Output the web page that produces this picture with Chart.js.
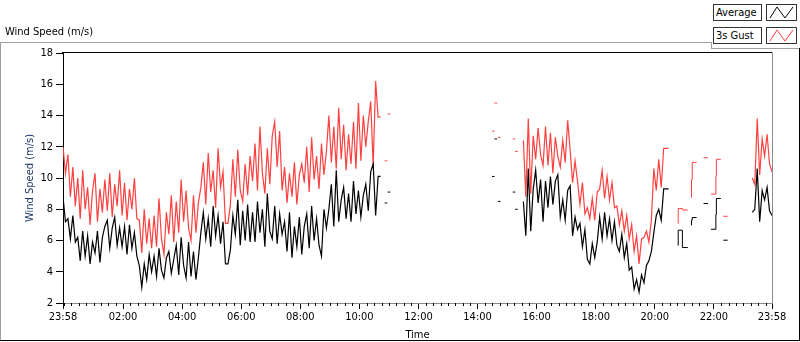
<!DOCTYPE html>
<html>
<head>
<meta charset="utf-8">
<title>Wind Speed</title>
<script src="https://cdn.jsdelivr.net/npm/chart.js@4.4.1/dist/chart.umd.min.js"></script>
<style>
  html, body { margin: 0; padding: 0; background: #fff; }
  #wrap { position: relative; width: 800px; height: 342px; overflow: hidden;
          font-family: "DejaVu Sans Condensed", "DejaVu Sans", sans-serif; font-size: 11px; color: #000; }
  .ln { position: absolute; }
  #chart { position: absolute; left: 0; top: 0; }
  .caption { position: absolute; left: 5px; top: 25px; line-height: 14px; white-space: nowrap; }
  .lg-text { position: absolute; left: 713px; width: 49px; height: 17px; border: 1px solid #333;
             background: #fff; line-height: 16px; padding-left: 2px; box-sizing: border-box; white-space: nowrap; }
  .lg-icon { position: absolute; left: 766px; width: 31px; height: 17px; border: 1px solid #333;
             background: #fff; box-sizing: border-box; }
</style>
</head>
<body>
<div id="wrap">
  <!-- outer LabVIEW style frame -->
  <div class="ln" style="left:0;top:42px;width:712px;height:1px;background:#a0a0a0"></div>
  <div class="ln" style="left:711px;top:42px;width:1px;height:7px;background:#a0a0a0"></div>
  <div class="ln" style="left:711px;top:48px;width:89px;height:1px;background:#a0a0a0"></div>
  <div class="ln" style="left:0;top:42px;width:1px;height:299px;background:#a0a0a0"></div>
  <div class="ln" style="left:0;top:340px;width:800px;height:1px;background:#000"></div>
  <div class="ln" style="left:799px;top:48px;width:1px;height:293px;background:#000"></div>

  <canvas id="chart" width="800" height="342"></canvas>

  <div class="caption">Wind Speed (m/s)</div>

  <div class="lg-text" style="top:4px">Average</div>
  <div class="lg-icon" style="top:4px">
    <svg width="29" height="15"><polyline points="3,13 10,2 18,13 26,2" fill="none" stroke="#000" stroke-width="1"/></svg>
  </div>
  <div class="lg-text" style="top:27px">3s Gust</div>
  <div class="lg-icon" style="top:27px">
    <svg width="29" height="15"><polyline points="3,13 10,2 18,13 26,2" fill="none" stroke="#ff4040" stroke-width="1"/></svg>
  </div>
</div>

<script>
// x values are minutes after 23:58, samples logged every 5 min
const STEP = 5;

const tickMinutes = [0, 122, 242, 362, 482, 602, 722, 842, 962, 1082, 1202, 1322, 1440];
const timeLabels = ['23:58', '02:00', '04:00', '06:00', '08:00', '10:00', '12:00',
                    '14:00', '16:00', '18:00', '20:00', '22:00', '23:58'];

// 23:58 - 10:43
const avgNight = [
  8.8, 7.2, 7.4, 6.1, 7.6, 5.9, 6.2, 4.7, 6.6, 5.0, 6.3, 4.5, 5.9,
  5.2, 6.6, 4.6, 6.2, 6.9, 7.3, 5.5, 6.8, 7.5, 5.7, 6.8,
  5.6, 6.9, 5.1, 7.0, 5.5, 6.5, 5.0, 4.4, 3.0, 4.5, 3.5, 5.1, 4.0,
  5.0, 3.7, 5.5, 4.1, 3.6, 4.9, 5.3, 3.9, 4.8, 5.7, 3.8, 6.2, 4.4, 3.6, 5.9,
  3.7, 5.3, 3.5, 4.9, 6.5, 7.8, 6.1, 7.4, 5.6, 8.2, 6.3, 7.6, 5.8, 7.2,
  4.5, 4.5, 5.4, 7.6, 6.4, 8.6, 5.7, 7.9, 6.0, 8.3, 5.9,
  7.8, 5.9, 8.5, 6.5, 8.0, 5.6, 9.0, 6.6, 6.1, 8.2, 5.8, 7.7, 6.4,
  7.2, 5.3, 7.8, 4.9, 6.9, 5.6, 7.5, 5.1,
  6.9, 7.7, 5.5, 8.2, 6.0, 7.4, 5.7, 5.0, 8.0, 6.8,
  8.0, 9.6, 6.9, 10.5, 7.2,
  8.6, 9.4, 7.4, 9.0, 7.2, 9.8, 7.7, 9.2, 7.5, 8.9,
  9.6, 7.9, 10.4, 10.9, 7.6, 10.1, 10.1
];
const gustNight = [
  12.0, 10.3, 11.5, 8.8, 10.7, 8.2, 10.0, 7.4, 10.5, 8.0, 9.4, 7.0, 9.2,
  10.3, 7.2, 9.3, 7.8, 9.9, 7.9, 10.3, 7.5, 9.6, 8.2, 10.5,
  7.6, 9.7, 7.3, 9.3, 8.0, 10.0, 7.4, 7.3, 5.2, 8.0, 5.8, 7.4, 5.5,
  7.6, 5.6, 8.7, 6.1, 5.1, 7.8, 6.4, 8.9, 5.9, 8.5, 6.5, 9.9, 7.2, 9.2, 6.8,
  6.0, 8.9, 6.5, 8.4, 9.4, 11.0, 8.3, 11.6, 9.1, 10.5, 8.1, 11.9, 9.4, 10.4,
  7.1, 7.1, 8.3, 11.2, 8.8, 11.8, 9.2, 8.5, 10.9, 8.9, 11.4,
  9.8, 12.2, 9.2, 13.3, 10.3, 9.0, 11.9, 9.6, 12.7, 13.6, 10.7, 13.0, 9.2,
  10.7, 8.4, 10.3, 8.8, 11.0, 8.3, 10.2, 10.9,
  9.7, 12.0, 9.1, 12.6, 9.9, 11.4, 9.3, 12.2, 10.2, 11.7,
  14.0, 11.0, 13.3, 10.6, 14.5,
  11.2, 13.4, 10.5, 12.8, 10.9, 13.6, 10.6, 14.8, 11.1, 14.0,
  12.0, 13.6, 14.9, 10.8, 16.2, 13.9, 13.9
];

// 15:33 - 20:28
const avgEvening = [
  8.5, 6.3, 10.6, 6.6, 9.3, 10.5, 8.4, 9.9, 7.2,
  9.8, 8.1, 10.1, 8.3, 9.8, 10.2, 7.5, 8.6, 7.3, 9.2, 9.5,
  6.3, 7.5, 6.7, 7.1, 5.6, 6.7, 4.8, 4.5, 5.8, 4.9, 5.9,
  7.5, 6.1, 7.8, 6.3, 7.4, 6.0, 7.2, 5.7, 5.3, 6.4,
  4.9, 5.8, 4.1, 4.3, 2.9, 3.5, 2.7, 3.8, 3.3, 4.4,
  4.7, 5.3, 6.5, 7.6, 8.0, 7.3, 9.3, 9.3, 9.3
];
const gustEvening = [
  12.4, 8.8, 13.8, 9.0, 12.7, 11.2, 13.2, 11.5, 10.8,
  13.3, 10.8, 12.9, 10.3, 12.6, 11.4, 10.7, 12.4, 11.0, 13.7, 11.8,
  9.7, 11.1, 9.8, 8.3, 9.7, 7.7, 8.1, 7.4, 8.7, 7.3, 9.1,
  9.3, 10.5, 8.7, 10.1, 8.6, 9.7, 8.1, 8.2, 7.0, 7.9,
  6.6, 7.6, 6.1, 7.0, 5.3, 6.3, 4.5, 6.1, 6.2, 6.6,
  5.9, 7.3, 10.6, 9.2, 11.2, 9.4, 11.9, 11.9, 11.9
];

// 23:18 - 23:58
const avgLate = [7.8, 8.0, 10.6, 7.2, 9.2, 8.6, 9.4, 7.9, 7.6];
const gustLate = [10.0, 9.6, 13.8, 10.2, 12.5, 11.4, 12.8, 10.9, 10.4];

// odd readings inside the logging gaps (null = break)
const spotMinutes = [656, 659, 662, 700, 874, 876, 879, 882, 886, 900, 916, 918, 921,
                     1240, 1248.5, 1249.5, 1258, 1269, 1272, 1276, 1276.5, 1278, 1287, 1294,
                     1301, 1310, 1313, 1316, 1326, 1327, 1336, 1338, 1341, 1350];
const spotAvg = [8.4, null, 9.1, null, 10.1, null, 12.5, null, 8.5, null, 9.1, null, 8.0,
                 null, 5.7, 6.66, 5.55, 5.55, null, 6.98, 7.3, 7.47, 7.47, null,
                 8.37, 8.37, null, 6.72, 7.66, 8.69, 8.69, null, 6.02, 6.02];
const spotGust = [11.1, null, 14.1, null, 13.0, null, 14.8, null, 12.6, null, 12.5, null, 11.7,
                  null, 7.1, 8.05, 7.95, 7.95, null, 8.75, 9.9, 11.0, 11.0, null,
                  11.3, 11.3, null, 8.97, 10.1, 11.2, 11.2, null, 7.55, 7.55];

const AVG_COLOR = '#000000';
const GUST_COLOR = '#ff4040';

function segment(start, values) {
  return values.map((v, i) => ({ x: start + i * STEP, y: v }));
}
function series(night, evening, late) {
  return [
    ...segment(0, night), { x: 652, y: null },
    ...segment(935, evening), { x: 1232, y: null },
    ...segment(1400, late)
  ];
}
function spots(values) {
  return spotMinutes.map((m, i) => ({ x: m, y: values[i] }));
}
function isolated(values) {
  return ctx => {
    const i = ctx.dataIndex;
    return values[i] != null && values[i - 1] == null && values[i + 1] == null ? 1.3 : 0;
  };
}

const minorTicks = {
  id: 'minorTicks',
  afterDraw(chart) {
    const { ctx, chartArea } = chart;
    const x = chart.scales.x;
    ctx.save();
    ctx.lineWidth = 1;
    ctx.strokeStyle = '#000';
    ctx.beginPath();
    for (let m = 2; m < 1440; m += 15) {
      if (tickMinutes.includes(m)) continue;
      const px = Math.round(x.getPixelForValue(m)) + 0.5;
      ctx.moveTo(px, x.top);
      ctx.lineTo(px, x.top + 3);
    }
    ctx.stroke();
    // top and right edges of the plot
    ctx.beginPath();
    ctx.moveTo(chartArea.left - 1, 52.5);
    ctx.lineTo(chartArea.right, 52.5);
    ctx.stroke();
    ctx.strokeStyle = '#8c8c8c';
    ctx.beginPath();
    ctx.moveTo(Math.round(chartArea.right) + 0.5, 52);
    ctx.lineTo(Math.round(chartArea.right) + 0.5, chartArea.bottom);
    ctx.stroke();
    ctx.restore();
  }
};

Chart.defaults.font.family = '"DejaVu Sans Condensed", "DejaVu Sans", sans-serif';
Chart.defaults.font.size = 11;
Chart.defaults.color = '#000';

new Chart(document.getElementById('chart'), {
  type: 'line',
  data: {
    datasets: [
      { label: 'Average', data: series(avgNight, avgEvening, avgLate),
        borderColor: AVG_COLOR, borderWidth: 1.2, pointRadius: 0 },
      { label: 'Average spots', data: spots(spotAvg),
        borderColor: AVG_COLOR, borderWidth: 1, stepped: true,
        pointStyle: 'line', pointBorderColor: AVG_COLOR, pointBorderWidth: 1,
        pointRadius: isolated(spotAvg) },
      { label: '3s Gust', data: series(gustNight, gustEvening, gustLate),
        borderColor: GUST_COLOR, borderWidth: 1.2, pointRadius: 0 },
      { label: '3s Gust spots', data: spots(spotGust),
        borderColor: GUST_COLOR, borderWidth: 1, stepped: true,
        pointStyle: 'line', pointBorderColor: GUST_COLOR, pointBorderWidth: 1,
        pointRadius: isolated(spotGust) }
    ]
  },
  options: {
    responsive: false,
    animation: false,
    events: [],
    spanGaps: false,
    layout: { padding: { left: 0, right: 28, top: 53, bottom: 0 } },
    plugins: { legend: { display: false }, tooltip: { enabled: false } },
    scales: {
      x: {
        type: 'linear',
        min: 0,
        max: 1440,
        afterBuildTicks: scale => { scale.ticks = tickMinutes.map(v => ({ value: v })); },
        afterFit: scale => { scale.height = 39; },
        ticks: {
          autoSkip: false,
          maxRotation: 0,
          padding: 2,
          callback: (value, index) => timeLabels[index]
        },
        grid: { drawOnChartArea: false, tickLength: 6, color: '#000' },
        border: { color: '#8c8c8c' },
        title: { display: true, text: 'Time', padding: { top: 0, bottom: 0 } }
      },
      y: {
        min: 2,
        max: 18,
        afterFit: scale => { scale.width = 63; },
        ticks: { stepSize: 2, padding: 3 },
        grid: { drawOnChartArea: false, tickLength: 7, color: '#000' },
        border: { color: '#000' },
        title: { display: true, text: 'Wind Speed (m/s)', color: '#1a3668', padding: { top: 24, bottom: 0 } }
      }
    }
  },
  plugins: [minorTicks]
});
</script>
</body>
</html>
